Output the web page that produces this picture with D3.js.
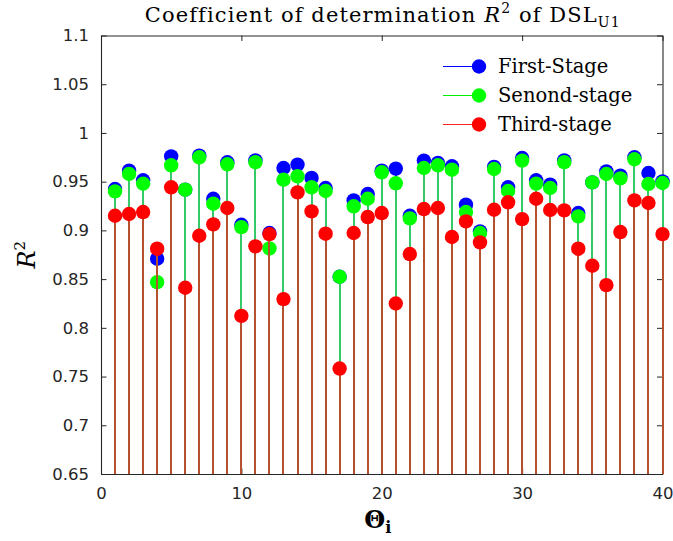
<!DOCTYPE html>
<html>
<head>
<meta charset="utf-8">
<script src="https://cdn.jsdelivr.net/npm/d3@7"></script>
<style>
  body { margin: 0; background: #fff; }
  svg { display: block; }
</style>
</head>
<body>
<script>
// Index of each model Θi
const theta = d3.range(1, 41);

// R² per stage
const firstStage = [
  0.9425, 0.9613, 0.9514, 0.8709, 0.9760, 0.9418, 0.9767, 0.9325, 0.9699, 0.9058,
  0.9719, 0.8973, 0.9640, 0.9675, 0.9538, 0.9435, 0.8524, 0.9308, 0.9373, 0.9613,
  0.9634, 0.9150, 0.9716, 0.9692, 0.9658, 0.9264, 0.8990, 0.9651, 0.9442, 0.9743,
  0.9514, 0.9469, 0.9719, 0.9178, 0.9493, 0.9606, 0.9562, 0.9750, 0.9589, 0.9503
];
const secondStage = [
  0.9400, 0.9580, 0.9480, 0.8469, 0.9668, 0.9418, 0.9750, 0.9274, 0.9678, 0.9034,
  0.9700, 0.8815, 0.9520, 0.9555, 0.9442, 0.9404, 0.8524, 0.9247, 0.9325, 0.9596,
  0.9483, 0.9123, 0.9640, 0.9668, 0.9623, 0.9188, 0.8973, 0.9630, 0.9404, 0.9716,
  0.9480, 0.9435, 0.9700, 0.9144, 0.9493, 0.9579, 0.9534, 0.9730, 0.9476, 0.9486
];
const thirdStage = [
  0.9150, 0.9168, 0.9188, 0.8812, 0.9442, 0.8411, 0.8945, 0.9062, 0.9230, 0.8123,
  0.8836, 0.8962, 0.8295, 0.9390, 0.9195, 0.8966, 0.7582, 0.8973, 0.9137, 0.9178,
  0.8250, 0.8757, 0.9219, 0.9230, 0.8932, 0.9092, 0.8877, 0.9212, 0.9288, 0.9116,
  0.9325, 0.9209, 0.9205, 0.8812, 0.8637, 0.8438, 0.8983, 0.9308, 0.9281, 0.8962
];

const seriesNames = ["First-Stage", "Senond-stage", "Third-stage"];
const xTicks = [0, 10, 20, 30, 40];
const yTicks = [0.65, 0.7, 0.75, 0.8, 0.85, 0.9, 0.95, 1, 1.05, 1.1];

const W = 673, H = 541;
const plot = { left: 101, right: 662.5, top: 35.5, bottom: 474 };

const x = d3.scaleLinear().domain([0, 40]).range([plot.left, plot.right]);
const y = d3.scaleLinear().domain([0.65, 1.1]).range([plot.bottom, plot.top]);

const svg = d3.select("body").append("svg")
  .attr("width", W).attr("height", H)
  .attr("viewBox", `0 0 ${W} ${H}`);

const axisColor = "#262626";
const tickFont = "'DejaVu Sans', sans-serif";
const serifFont = "'DejaVu Serif', serif";

// Stem series, drawn in order so later stages sit on top
const series = [
  { name: seriesNames[0], values: firstStage,  dot: "#0000ff", stem: "#1f3ae0", legendLine: "#0000ff" },
  { name: seriesNames[1], values: secondStage, dot: "#00ff00", stem: "#36c96a", legendLine: "#00ee00" },
  { name: seriesNames[2], values: thirdStage,  dot: "#ff0000", stem: "#b5512d", legendLine: "#ff2020" }
];

const marks = svg.append("g");

series.forEach(s => {
  const g = marks.append("g");
  g.selectAll("line")
    .data(s.values)
    .join("line")
    .attr("x1", (d, i) => Math.round(x(theta[i])))
    .attr("x2", (d, i) => Math.round(x(theta[i])))
    .attr("y1", y(0.65))
    .attr("y2", d => y(d))
    .attr("stroke", s.stem)
    .attr("stroke-width", 2)
    .attr("shape-rendering", "crispEdges");
  g.selectAll("circle")
    .data(s.values)
    .join("circle")
    .attr("cx", (d, i) => x(theta[i]))
    .attr("cy", d => y(d))
    .attr("r", 7.2)
    .attr("fill", s.dot);
});

// Axes: ticks point inward on all four sides
const tickLen = 5.5;
const axes = svg.insert("g", ":first-child");

axes.append("g")
  .attr("transform", `translate(0,${plot.bottom})`)
  .call(d3.axisBottom(x).tickValues(xTicks).tickSizeInner(-tickLen).tickSizeOuter(0).tickPadding(13).tickFormat(d3.format("d")));
axes.append("g")
  .attr("transform", `translate(0,${plot.top})`)
  .call(d3.axisTop(x).tickValues(xTicks).tickSizeInner(-tickLen).tickSizeOuter(0).tickFormat(""));
axes.append("g")
  .attr("transform", `translate(${plot.left},0)`)
  .call(d3.axisLeft(y).tickValues(yTicks).tickSizeInner(-tickLen).tickSizeOuter(0).tickPadding(12).tickFormat(d => String(+d.toFixed(2))));
axes.append("g")
  .attr("transform", `translate(${plot.right},0)`)
  .call(d3.axisRight(y).tickValues(yTicks).tickSizeInner(-tickLen).tickSizeOuter(0).tickFormat(""));

axes.selectAll(".domain").attr("stroke", axisColor).attr("stroke-width", 1.1);
axes.selectAll(".tick line").attr("stroke", axisColor).attr("stroke-width", 1);
axes.selectAll(".tick text")
  .attr("fill", axisColor)
  .style("font-family", tickFont)
  .style("font-size", "16.5px");

// Title
const title = svg.append("text")
  .attr("x", (plot.left + plot.right) / 2 + 1)
  .attr("y", 22)
  .attr("text-anchor", "middle")
  .style("font-family", serifFont)
  .style("font-size", "21px")
  .style("letter-spacing", "1.1px")
  .attr("fill", "#000");
title.append("tspan").text("Coefficient of determination ");
title.append("tspan").style("font-style", "italic").text("R");
title.append("tspan").attr("dy", -9).style("font-size", "14px").text("2");
title.append("tspan").attr("dy", 9).text(" of DSL");
title.append("tspan").attr("dy", 5).style("font-size", "14px").text("U1");

// X label Θi
const xl = svg.append("text")
  .attr("x", (plot.left + plot.right) / 2 - 4)
  .attr("y", 528)
  .attr("text-anchor", "middle")
  .style("font-family", serifFont)
  .style("font-weight", "bold")
  .style("font-size", "24px")
  .attr("fill", "#000");
xl.append("tspan").text("Θ");
xl.append("tspan").attr("dy", 5).style("font-size", "16px").text("i");

// Y label R²
const yl = svg.append("text")
  .attr("transform", `translate(35,${(plot.top + plot.bottom) / 2}) rotate(-90)`)
  .attr("text-anchor", "middle")
  .style("font-family", serifFont)
  .style("font-size", "24px")
  .attr("fill", "#000");
yl.append("tspan").style("font-style", "italic").text("R");
yl.append("tspan").attr("dy", -10).style("font-size", "15px").text("2");

// Legend
const legend = svg.append("g");
series.forEach((s, i) => {
  const ly = 66.5 + i * 29;
  legend.append("line")
    .attr("x1", 443).attr("x2", 479)
    .attr("y1", ly).attr("y2", ly)
    .attr("stroke", s.legendLine).attr("stroke-width", 1);
  legend.append("circle")
    .attr("cx", 479).attr("cy", ly).attr("r", 7.2)
    .attr("fill", s.dot);
  legend.append("text")
    .attr("x", 498).attr("y", ly + 6.5)
    .style("font-family", serifFont)
    .style("font-size", "19.5px")
    .attr("fill", "#000")
    .text(s.name);
});
</script>
</body>
</html>
